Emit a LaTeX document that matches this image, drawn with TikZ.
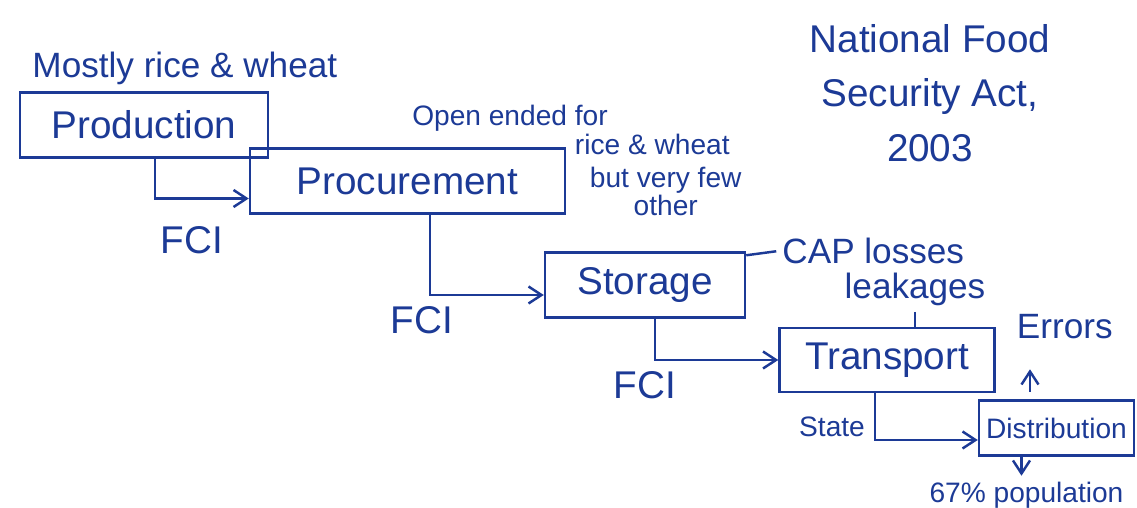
\documentclass[tikz,border=0pt]{standalone}
\usepackage{fontspec}
\setmainfont{Liberation Sans}
\usepackage{tikz}
\usetikzlibrary{arrows.meta,positioning,calc}
\definecolor{ink}{RGB}{28,58,150}

\begin{document}
\begin{tikzpicture}[
  every node/.style={text=ink, font=\fontsize{20}{24}\selectfont},
  stage/.style={draw=ink, line width=1.4pt, minimum height=1.3cm, align=center,
                font=\fontsize{22}{26}\selectfont},
  note/.style ={align=center},
  small/.style={align=center, font=\fontsize{16}{18}\selectfont},
  agency/.style={font=\fontsize{22}{26}\selectfont},
  arr/.style  ={->, draw=ink, line width=1.4pt},
  link/.style ={draw=ink, line width=1.4pt},
  >={Straight Barb[length=2.6mm,width=3.4mm]},
  node distance=0.5cm
]
\useasboundingbox[fill=white] (0,0) rectangle (22.74,10.16);

% Supply chain stages
\node[stage, minimum width=4.96cm] (prod)  at (2.88,7.66) {Production};
\node[stage, minimum width=6.3cm]  (procu) at (8.15,6.54) {Procurement};
\node[stage, minimum width=4.0cm]  (stor)  at (12.9,4.46) {Storage};
\node[stage, minimum width=4.3cm, minimum height=1.28cm] (trans) at (17.74,2.96) {Transport};
\node[stage, minimum width=3.1cm, minimum height=1.1cm,
      font=\fontsize{16}{18}\selectfont] (dist) at (21.13,1.6) {Distribution};

% Notes
\node[note, anchor=south west] (mostly) at ([xshift=0.15cm]prod.north west)
     {Mostly rice \& wheat};
\node[small, above=0.2 of procu.north, xshift=2.05cm] (open) {Open ended for};
\node[small, anchor=west] (ricew) at ([xshift=0.05cm,yshift=0.05cm]procu.north east)
     {rice \& wheat};
\node[small, right=0.35 of procu, yshift=-0.2cm, font=\fontsize{16}{13}\selectfont]
     (few) {but very few\\other};
\node[note, font=\fontsize{22}{31}\selectfont] (nfsa) at (18.6,8.3)
     {National Food\\Security Act,\\2003};
\node[note, right=0.6 of stor.north east] (cap) {CAP losses};
\node[note, above=0.3 of trans, xshift=0.56cm] (leak) {leakages};
\node[note, right=0.3 of trans.north east] (err) {Errors};
\node[small, below=0.38 of dist, xshift=-0.6cm] (pop) {67\% population};

% Who moves the grain
\node[agency] (fci1) at (3.84,5.36) {FCI};
\node[agency] (fci2) at (8.44,3.76) {FCI};
\node[agency] (fci3) at (12.9,2.46) {FCI};
\node[small]  (state) at (16.64,1.62) {State};

% Arrows main flow
\draw[arr] ([xshift=0.22cm]prod.south)  |- ([yshift=-0.35cm]procu.west);
\draw[arr] ([xshift=0.45cm]procu.south) |- ([yshift=-0.2cm]stor.west);
\draw[arr] ([xshift=0.2cm]stor.south)   |- (trans.west);
\draw[arr] ([xshift=-0.24cm]trans.south) |- ([yshift=-0.24cm]dist.west);

% Side notes
\draw[link] ([yshift=-0.08cm]stor.north east) -- (cap.west);
\draw[link] (leak.south) -- (leak.south |- trans.north);
\coordinate (errtail) at ([xshift=-0.53cm,yshift=0.15cm]dist.north);
\coordinate (errhead) at ([yshift=0.45cm]errtail);
\draw[arr] (errtail) -- (errhead);
\coordinate (poptail) at ([xshift=-0.7cm]dist.south);
\draw[arr] (poptail) -- (poptail |- pop.north);

\end{tikzpicture}
\end{document}
